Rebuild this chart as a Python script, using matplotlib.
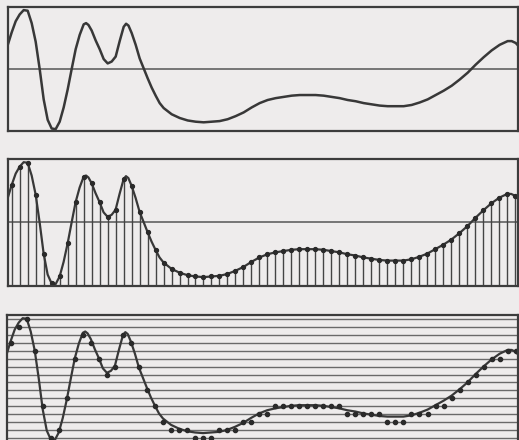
import numpy as np
import matplotlib
matplotlib.use("Agg")
import matplotlib.pyplot as plt

# ---- data (x in sample-index units, y in [-1, 1]) ----
sample_values = [0.59, 0.88, 0.94, 0.44, -0.49, -0.96, -0.85, -0.33, 0.32, 0.72,
                 0.62, 0.32, 0.09, 0.20, 0.68, 0.58, 0.17, -0.15, -0.43, -0.63,
                 -0.73, -0.79, -0.83, -0.85, -0.86, -0.85, -0.84, -0.81, -0.76, -0.70,
                 -0.62, -0.55, -0.50, -0.47, -0.45, -0.43, -0.42, -0.42, -0.42, -0.43,
                 -0.45, -0.47, -0.50, -0.52, -0.55, -0.57, -0.59, -0.60, -0.60, -0.60,
                 -0.58, -0.54, -0.49, -0.42, -0.35, -0.27, -0.17, -0.06, 0.07, 0.19,
                 0.30, 0.39, 0.45, 0.42]

# extra points of the continuous curve (between samples / at the ends)
extra_x = [-0.46, 0.5, 1.5, 2.5, 3.5, 4.5, 5.5, 6.5, 7.5, 8.5, 9.3, 9.6, 10.5,
           11.5, 12.5, 13.5, 14.3, 14.6, 15.5, 16.5, 17.5, 18.5, 62.5, 63.29]
extra_y = [0.40, 0.77, 0.95, 0.74, 0.00, -0.82, -0.97, -0.62, 0.00, 0.55, 0.74, 0.71, 0.46,
           0.16, 0.12, 0.45, 0.73, 0.70, 0.39, 0.01, -0.30, -0.55, 0.45, 0.38]

quant_levels = [-0.9375, -0.8125, -0.6875, -0.5625, -0.4375, -0.3125, -0.1875, -0.0625,
                0.0625, 0.1875, 0.3125, 0.4375, 0.5625, 0.6875, 0.8125, 0.9375]
quant_index = [4, 6, 7, 3, -4, -8, -7, -3, 2, 5,
               4, 2, 0, 1, 5, 4, 1, -2, -4, -6,
               -7, -7, -7, -8, -8, -8, -7, -7, -7, -6,
               -6, -5, -5, -4, -4, -4, -4, -4, -4, -4,
               -4, -4, -5, -5, -5, -5, -5, -6, -6, -6,
               -5, -5, -5, -4, -4, -3, -2, -1, 0, 1,
               2, 2, 3, 3]

# ---- styling ----
BG = "#eeecec"
INK = "#383838"
XLIM = (-0.46, 63.29)
YLIM = (-1.0, 1.0)

sample_x = np.arange(len(sample_values))
cx = np.concatenate([sample_x, extra_x])
cy = np.concatenate([sample_values, extra_y])
order = np.argsort(cx)
cx, cy = cx[order], cy[order]
quant_values = [quant_levels[m + 8] for m in quant_index]

fig = plt.figure(figsize=(5.19, 4.40), dpi=100, facecolor=BG)

def make_ax(rect):
    ax = fig.add_axes(rect)
    ax.set_facecolor(BG)
    ax.set_xlim(*XLIM)
    ax.set_ylim(*YLIM)
    ax.set_xticks([])
    ax.set_yticks([])
    for s in ax.spines.values():
        s.set_color("#3c3c3c")
        s.set_linewidth(1.6)
    return ax

W, H = 519.0, 440.0
# panel 1 : continuous signal
ax1 = make_ax([8 / W, 1 - 131 / H, 510 / W, 124 / H])
ax1.axhline(0, color="#555555", lw=1.1)
ax1.plot(cx, cy, color=INK, lw=1.8, solid_joinstyle="round")

# panel 2 : sampled signal
ax2 = make_ax([8 / W, 1 - 286 / H, 509.5 / W, 127 / H])
ax2.axhline(0, color="#555555", lw=1.1)
ax2.vlines(sample_x, YLIM[0], sample_values, color="#444444", lw=1.0)
ax2.plot(cx, cy, color=INK, lw=1.6, solid_joinstyle="round")
ax2.plot(sample_x, sample_values, "o", color="#2a2a2a", ms=2.8)

# panel 3 : quantized signal
ax3 = make_ax([7 / W, 1 - 442 / H, 511 / W, 127 / H])
for lv in quant_levels:
    ax3.axhline(lv, color="#6a6a6a", lw=1.0)
ax3.plot(cx, cy, color=INK, lw=1.6, solid_joinstyle="round")
ax3.plot(sample_x, quant_values, "o", color="#2a2a2a", ms=3.0)

fig.savefig("out.png", dpi=100, facecolor=BG)
